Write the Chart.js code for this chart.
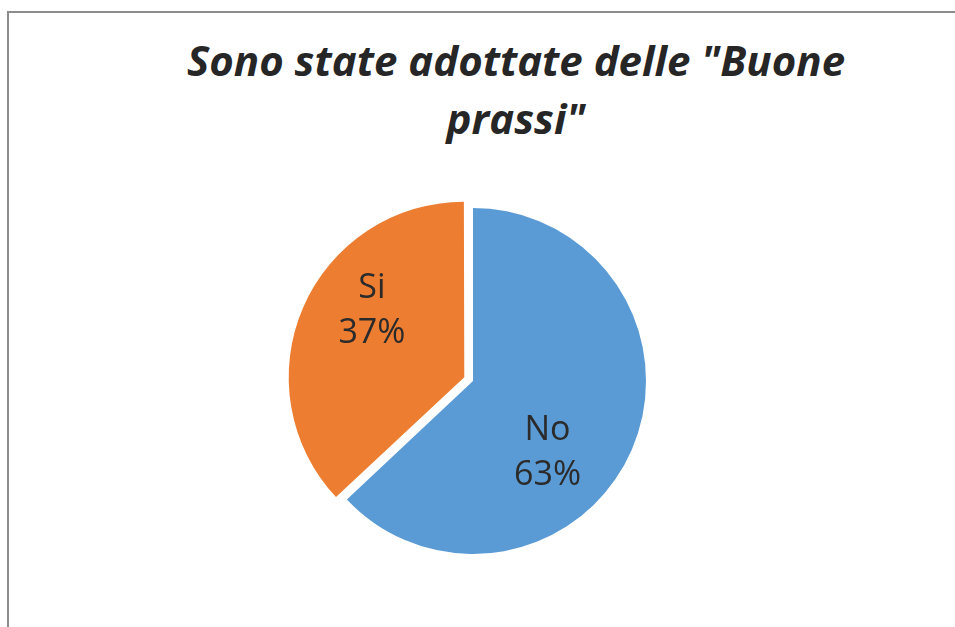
<!DOCTYPE html>
<html>
<head>
<meta charset="utf-8">
<script src="https://cdn.jsdelivr.net/npm/chart.js@4.4.1/dist/chart.umd.min.js"></script>
<style>
  html, body { margin: 0; padding: 0; background: #ffffff; }
  #wrap { position: relative; width: 955px; height: 627px; overflow: hidden; }
  #frame { position: absolute; left: 7px; top: 11px; width: 2000px; height: 2000px;
           border-top: 2px solid #8c8c8c; border-left: 2px solid #8c8c8c; box-sizing: border-box; }
  #title { position: absolute; left: 116px; width: 800px; top: 31px; text-align: center;
           font-family: "Open Sans", sans-serif; font-weight: 700; font-style: italic;
           font-size: 42px; line-height: 58px; color: #262626; white-space: nowrap; }
  canvas { position: absolute; left: 0; top: 0; }
</style>
</head>
<body>
<div id="wrap">
  <div id="frame"></div>
  <div id="title">Sono state adottate delle "Buone<br>prassi"</div>
  <canvas id="c" width="955" height="627"></canvas>
</div>
<script>
const categories = ["No", "Si"];
const values = [63, 37];
const percentLabels = ["63%", "37%"];
const sliceColors = ["#5B9BD5", "#ED7D31"];
const sliceOffsets = [0, 38];
// label placement: angle (deg, screen) and radius fraction from slice centre
const labelAngles = [43.8, 216];
const labelRadii = [0.597, 0.643];

const labelPlugin = {
  id: 'sliceLabels',
  afterDatasetsDraw(chart) {
    const ctx = chart.ctx;
    const meta = chart.getDatasetMeta(0);
    ctx.save();
    ctx.font = '34px "Open Sans", sans-serif';
    ctx.fillStyle = '#2b2b2b';
    ctx.textAlign = 'center';
    ctx.textBaseline = 'middle';
    meta.data.forEach((arc, i) => {
      const p = arc.getProps(['x', 'y', 'startAngle', 'endAngle', 'outerRadius', 'circumference'], true);
      const off = (arc.options.offset || 0) / 4;
      const half = (p.startAngle + p.endAngle) / 2;
      const fix = 1 - Math.sin(Math.min(Math.PI, p.circumference || 0));
      const t = off * (1 + fix);
      const cx = p.x + Math.cos(half) * t;
      const cy = p.y + Math.sin(half) * t;
      const a = labelAngles[i] * Math.PI / 180;
      const lx = cx + Math.cos(a) * p.outerRadius * labelRadii[i];
      const ly = cy + Math.sin(a) * p.outerRadius * labelRadii[i];
      ctx.fillText(categories[i], lx, ly - 22.5);
      ctx.fillText(percentLabels[i], lx, ly + 22.5);
    });
    ctx.restore();
  }
};

new Chart(document.getElementById('c'), {
  type: 'pie',
  data: {
    labels: categories,
    datasets: [{
      data: values,
      backgroundColor: sliceColors,
      borderWidth: 0,
      offset: sliceOffsets
    }]
  },
  options: {
    responsive: false,
    animation: false,
    layout: { padding: { left: 281, right: 955 - 665, top: 189, bottom: 627 - 573 } },
    plugins: {
      legend: { display: false },
      tooltip: { enabled: false },
      title: { display: false }
    }
  },
  plugins: [labelPlugin]
});
</script>
</body>
</html>
